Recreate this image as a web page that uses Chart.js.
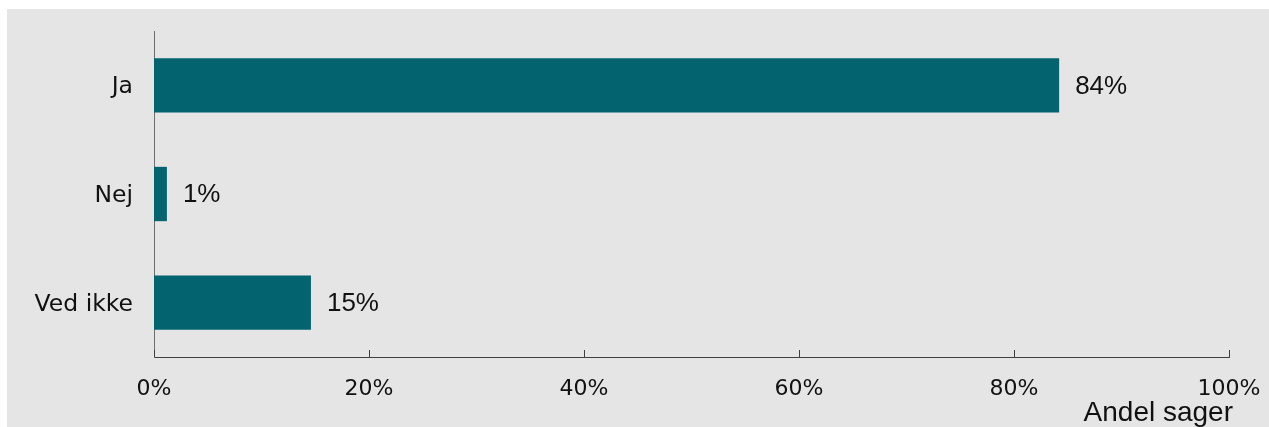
<!DOCTYPE html>
<html>
<head>
<meta charset="utf-8">
<script src="https://cdn.jsdelivr.net/npm/chart.js@4"></script>
<style>
  html, body { margin: 0; padding: 0; background: #ffffff; }
  #wrap {
    position: absolute; left: 7px; top: 9px;
    width: 1262px; height: 418px;
    background: #e5e5e5;
  }
</style>
</head>
<body>
<div id="wrap"><canvas id="chart" width="1262" height="418"></canvas></div>
<script>
const categories = ['Ja', 'Nej', 'Ved ikke'];
const shares = [84.2, 1.2, 14.6];
const xTicks = [0, 20, 40, 60, 80, 100];
const axisTitle = 'Andel sager';

const barColor = '#03636f';

// value labels to the right of each bar
const valueLabels = {
  id: 'valueLabels',
  afterDatasetsDraw(chart) {
    const { ctx } = chart;
    const meta = chart.getDatasetMeta(0);
    ctx.save();
    ctx.font = '26px "Liberation Sans", Arial, sans-serif';
    ctx.fillStyle = '#111111';
    ctx.textAlign = 'left';
    ctx.textBaseline = 'middle';
    meta.data.forEach((bar, i) => {
      ctx.fillText(Math.round(shares[i]) + '%', bar.x + 16, bar.y + 1);
    });
    ctx.restore();
  }
};

// short tick marks pointing up from the x axis, plus the axis title
const axisExtras = {
  id: 'axisExtras',
  afterDraw(chart) {
    const { ctx } = chart;
    const x = chart.scales.x;
    const bottom = chart.chartArea.bottom;
    ctx.save();
    ctx.strokeStyle = '#404040';
    ctx.lineWidth = 1;
    xTicks.forEach(t => {
      const px = Math.round(x.getPixelForValue(t)) + 0.5;
      ctx.beginPath();
      ctx.moveTo(px, bottom - 7);
      ctx.lineTo(px, bottom);
      ctx.stroke();
    });
    ctx.font = '28px "Liberation Sans", Arial, sans-serif';
    ctx.fillStyle = '#111111';
    ctx.textAlign = 'right';
    ctx.textBaseline = 'alphabetic';
    ctx.fillText(axisTitle, 1226, 412);
    ctx.restore();
  }
};

new Chart(document.getElementById('chart'), {
  type: 'bar',
  data: {
    labels: categories,
    datasets: [{
      data: shares,
      backgroundColor: barColor,
      borderWidth: 0,
      categoryPercentage: 1,
      barPercentage: 0.5
    }]
  },
  options: {
    indexAxis: 'y',
    responsive: false,
    animation: false,
    layout: { padding: { top: 22, right: 40, left: 0, bottom: 0 } },
    plugins: {
      legend: { display: false },
      tooltip: { enabled: false }
    },
    scales: {
      x: {
        min: 0,
        max: 100,
        afterFit: (scale) => {
          scale.height = 70;
          scale.paddingLeft = 0;
          scale.paddingRight = 0;
        },
        afterBuildTicks: (scale) => { scale.ticks = xTicks.map(v => ({ value: v })); },
        grid: { display: false },
        border: { display: true, color: '#404040', width: 1 },
        ticks: {
          padding: 11,
          color: '#111111',
          font: { family: '"DejaVu Sans", Verdana, sans-serif', size: 22 },
          callback: (v) => v + '%'
        }
      },
      y: {
        afterFit: (scale) => {
          scale.width = 147;
          scale.paddingTop = 0;
          scale.paddingBottom = 0;
        },
        grid: { display: false },
        border: { display: true, color: '#6e6e6e', width: 1 },
        ticks: {
          padding: 13,
          labelOffset: 2,
          color: '#111111',
          font: { family: '"DejaVu Sans", Verdana, sans-serif', size: 23.5 }
        }
      }
    }
  },
  plugins: [valueLabels, axisExtras]
});
</script>
</body>
</html>
